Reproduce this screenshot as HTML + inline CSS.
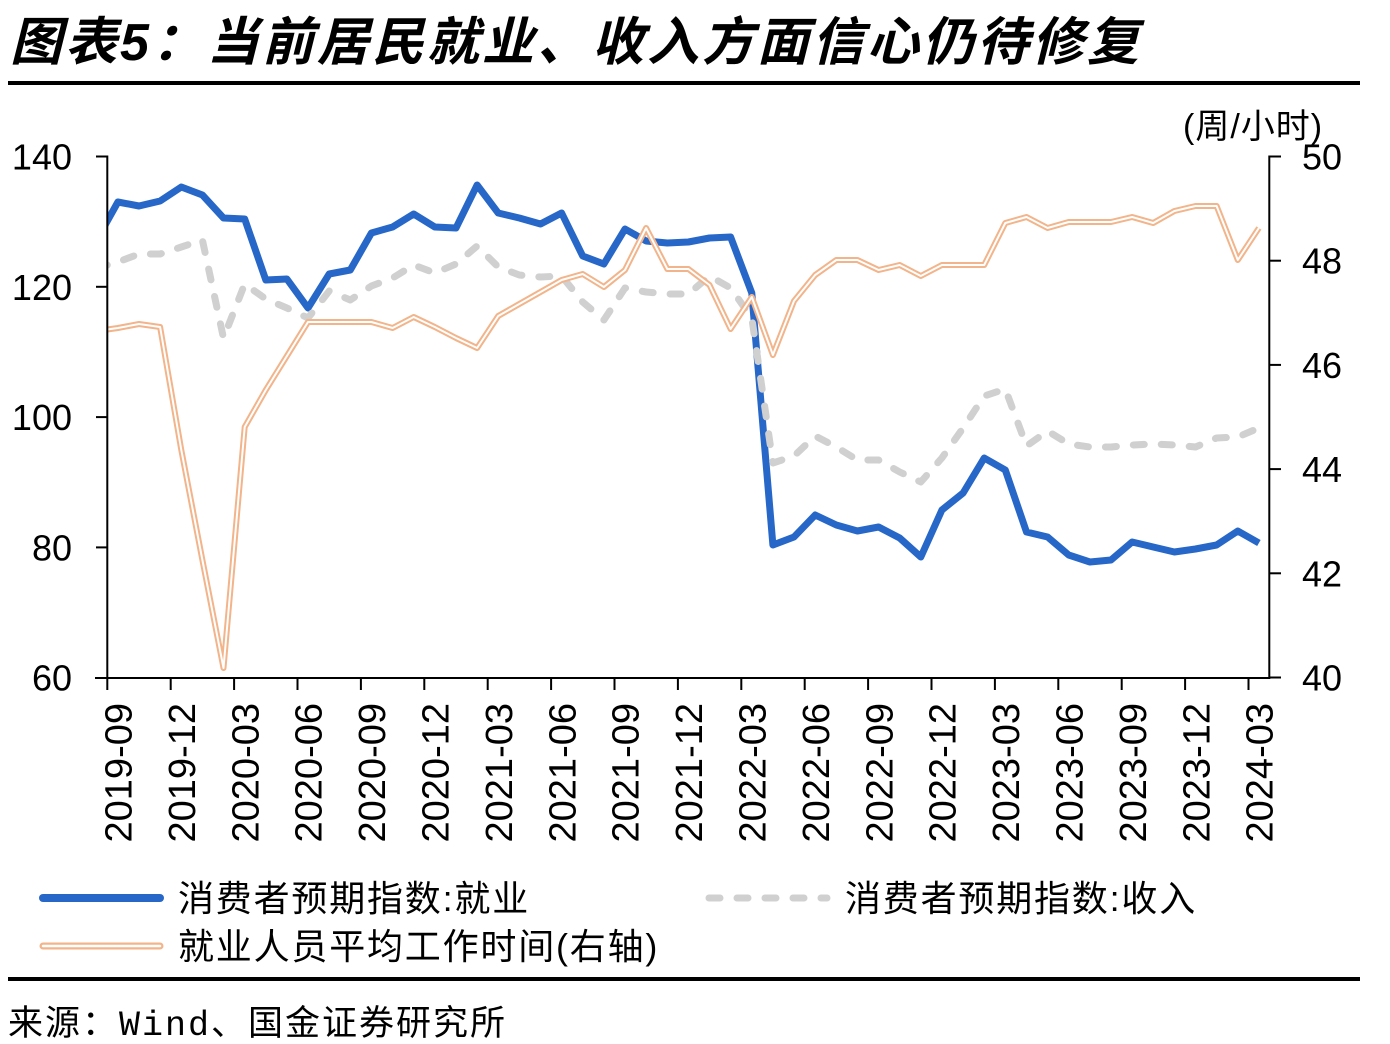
<!DOCTYPE html>
<html><head><meta charset="utf-8"><style>
html,body{margin:0;padding:0;background:#fff;}
body{width:1390px;height:1044px;overflow:hidden;}
svg{display:block;}
.num{font-family:"Liberation Sans",Arial,sans-serif;font-size:36px;fill:#000;}
.xl{font-family:"Liberation Sans",Arial,sans-serif;font-size:38px;fill:#000;}
.cjk{font-family:"Liberation Sans","Noto Sans CJK SC",sans-serif;fill:#000;}
</style></head><body>
<svg width="1390" height="1044" viewBox="0 0 1390 1044" xmlns="http://www.w3.org/2000/svg">
<defs><clipPath id="pc"><rect x="107.3" y="130" width="1162" height="560"/></clipPath></defs>
<!-- title -->
<text x="10" y="60" class="cjk" style="font-size:52px;font-weight:bold;font-style:italic;letter-spacing:3px">图表5：当前居民就业、收入方面信心仍待修复</text>
<rect x="8" y="81" width="1352" height="4" fill="#000"/>
<!-- unit -->
<text x="1183" y="138" class="cjk" style="font-size:34px;letter-spacing:1px">(周/小时)</text>

<!-- series -->
<g clip-path="url(#pc)" fill="none" stroke-linejoin="round">
<polyline stroke="#2767C8" stroke-width="7" points="96.7,240 117.9,202 139.0,206 160.1,201 181.3,187 202.4,195 223.5,218 244.7,219 265.8,280 286.9,279 308.0,308 329.2,274 350.3,270 371.4,233 392.6,227 413.7,214 434.8,227 456.0,228 477.1,185 498.2,213 519.3,218 540.5,224 561.6,213 582.7,256 603.9,264 625.0,229 646.1,241 667.3,243 688.4,242 709.5,238 730.6,237 751.8,293 772.9,545 794.0,537 815.2,515 836.3,525 857.4,531 878.6,527 899.7,538 920.8,557 941.9,510 963.1,493 984.2,458 1005.3,470 1026.5,532 1047.6,537 1068.7,555 1089.9,562 1111.0,560 1132.1,542 1153.2,547 1174.4,552 1195.5,549 1216.6,545 1237.8,531 1258.9,543"/>
<polyline stroke="#D0D0D0" stroke-width="7" stroke-linecap="round" stroke-dasharray="11 17" points="96.7,268 117.9,262 139.0,254 160.1,254 181.3,247 202.4,240 223.5,338 244.7,284 265.8,299 286.9,308 308.0,318 329.2,291 350.3,300 371.4,286 392.6,278 413.7,265 434.8,273 456.0,264 477.1,246 498.2,267 519.3,275 540.5,277 561.6,276 582.7,302 603.9,320 625.0,288 646.1,292 667.3,294 688.4,294 709.5,276 730.6,288 751.8,318 772.9,463 794.0,456 815.2,436 836.3,447 857.4,460 878.6,460 899.7,472 920.8,482 941.9,458 963.1,428 984.2,396 1005.3,389 1026.5,446 1047.6,431 1068.7,444 1089.9,447 1111.0,447 1132.1,445 1153.2,444 1174.4,445 1195.5,447 1216.6,438 1237.8,437 1258.9,428"/>
<g>
<polyline stroke="#F2B48A" stroke-width="6" points="96.7,331 117.9,328 139.0,324 160.1,327 181.3,450 202.4,560 223.5,668 244.7,427 265.8,390 286.9,356 308.0,322 329.2,322 350.3,322 371.4,322 392.6,328 413.7,317 434.8,327 456.0,338 477.1,348 498.2,316 519.3,304 540.5,292 561.6,280 582.7,274 603.9,287 625.0,270 646.1,228 667.3,269 688.4,269 709.5,285 730.6,329 751.8,297 772.9,355 794.0,301 815.2,275 836.3,260 857.4,260 878.6,270 899.7,265 920.8,276 941.9,265 963.1,265 984.2,265 1005.3,223 1026.5,217 1047.6,228 1068.7,222 1089.9,222 1111.0,222 1132.1,217 1153.2,223 1174.4,211 1195.5,206 1216.6,206 1237.8,260 1258.9,228"/>
<polyline stroke="#FFFFFF" stroke-width="2" points="96.7,331 117.9,328 139.0,324 160.1,327 181.3,450 202.4,560 223.5,668 244.7,427 265.8,390 286.9,356 308.0,322 329.2,322 350.3,322 371.4,322 392.6,328 413.7,317 434.8,327 456.0,338 477.1,348 498.2,316 519.3,304 540.5,292 561.6,280 582.7,274 603.9,287 625.0,270 646.1,228 667.3,269 688.4,269 709.5,285 730.6,329 751.8,297 772.9,355 794.0,301 815.2,275 836.3,260 857.4,260 878.6,270 899.7,265 920.8,276 941.9,265 963.1,265 984.2,265 1005.3,223 1026.5,217 1047.6,228 1068.7,222 1089.9,222 1111.0,222 1132.1,217 1153.2,223 1174.4,211 1195.5,206 1216.6,206 1237.8,260 1258.9,228"/>
</g>
</g>

<!-- axes -->
<g stroke="#000" stroke-width="2" fill="none">
<line x1="107.3" y1="155.5" x2="107.3" y2="679"/>
<line x1="95" y1="678" x2="1270" y2="678"/>
<line x1="1269.3" y1="155.5" x2="1269.3" y2="679"/>
<line x1="96" y1="156.5" x2="107.3" y2="156.5"/>
<line x1="96" y1="286.8" x2="107.3" y2="286.8"/>
<line x1="96" y1="417.1" x2="107.3" y2="417.1"/>
<line x1="96" y1="547.4" x2="107.3" y2="547.4"/>
<line x1="1269.3" y1="156.5" x2="1281" y2="156.5"/>
<line x1="1269.3" y1="260.7" x2="1281" y2="260.7"/>
<line x1="1269.3" y1="364.9" x2="1281" y2="364.9"/>
<line x1="1269.3" y1="469.1" x2="1281" y2="469.1"/>
<line x1="1269.3" y1="573.3" x2="1281" y2="573.3"/>
<line x1="1269.3" y1="677.5" x2="1281" y2="677.5"/>
<path d="M107.3 678V690 M170.7 678V690 M234.1 678V690 M297.5 678V690 M360.9 678V690 M424.3 678V690 M487.7 678V690 M551.1 678V690 M614.5 678V690 M677.9 678V690 M741.3 678V690 M804.7 678V690 M868.1 678V690 M931.5 678V690 M994.9 678V690 M1058.3 678V690 M1121.7 678V690 M1185.1 678V690 M1248.5 678V690"/>
</g>

<!-- left labels -->
<g class="num" text-anchor="end">
<text x="72" y="169.5">140</text>
<text x="72" y="299.8">120</text>
<text x="72" y="430.1">100</text>
<text x="72" y="560.4">80</text>
<text x="72" y="690.7">60</text>
</g>
<!-- right labels -->
<g class="num">
<text x="1302" y="169.5">50</text>
<text x="1302" y="273.7">48</text>
<text x="1302" y="377.9">46</text>
<text x="1302" y="482.1">44</text>
<text x="1302" y="586.3">42</text>
<text x="1302" y="690.5">40</text>
</g>
<!-- x labels -->
<g class="xl" text-anchor="end">
<text transform="translate(131.5,703) rotate(-90)">2019-09</text>
<text transform="translate(194.9,703) rotate(-90)">2019-12</text>
<text transform="translate(258.3,703) rotate(-90)">2020-03</text>
<text transform="translate(321.7,703) rotate(-90)">2020-06</text>
<text transform="translate(385.1,703) rotate(-90)">2020-09</text>
<text transform="translate(448.5,703) rotate(-90)">2020-12</text>
<text transform="translate(511.9,703) rotate(-90)">2021-03</text>
<text transform="translate(575.3,703) rotate(-90)">2021-06</text>
<text transform="translate(638.7,703) rotate(-90)">2021-09</text>
<text transform="translate(702.1,703) rotate(-90)">2021-12</text>
<text transform="translate(765.5,703) rotate(-90)">2022-03</text>
<text transform="translate(828.9,703) rotate(-90)">2022-06</text>
<text transform="translate(892.3,703) rotate(-90)">2022-09</text>
<text transform="translate(955.7,703) rotate(-90)">2022-12</text>
<text transform="translate(1019.1,703) rotate(-90)">2023-03</text>
<text transform="translate(1082.5,703) rotate(-90)">2023-06</text>
<text transform="translate(1145.9,703) rotate(-90)">2023-09</text>
<text transform="translate(1209.3,703) rotate(-90)">2023-12</text>
<text transform="translate(1272.7,703) rotate(-90)">2024-03</text>
</g>

<!-- legend -->
<line x1="43" y1="898" x2="160" y2="898" stroke="#2767C8" stroke-width="8" stroke-linecap="round"/>
<text x="178" y="911" class="cjk" style="font-size:36px;letter-spacing:1.8px">消费者预期指数:就业</text>
<line x1="709" y1="898" x2="827" y2="898" stroke="#D0D0D0" stroke-width="7" stroke-linecap="round" stroke-dasharray="11 17"/>
<text x="845" y="911" class="cjk" style="font-size:36px;letter-spacing:1.8px">消费者预期指数:收入</text>
<line x1="43" y1="946" x2="160" y2="946" stroke="#F2B48A" stroke-width="7" stroke-linecap="round"/>
<line x1="43" y1="946" x2="160" y2="946" stroke="#FFFFFF" stroke-width="2.5" stroke-linecap="round"/>
<text x="178" y="959" class="cjk" style="font-size:36px;letter-spacing:1.8px">就业人员平均工作时间(右轴)</text>

<rect x="8" y="977" width="1352" height="4" fill="#000"/>
<text x="8" y="1035" style="font-family:'Liberation Mono','Noto Sans CJK SC',monospace;font-size:35px;letter-spacing:2px;fill:#000">来源：Wind、国金证券研究所</text>
</svg>
</body></html>
